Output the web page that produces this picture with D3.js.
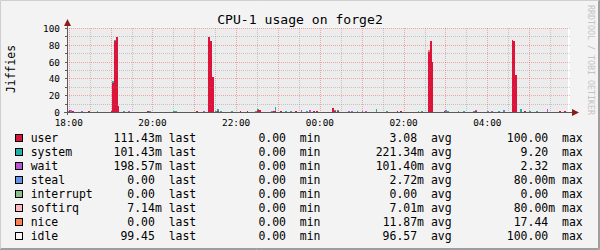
<!DOCTYPE html>
<html><head><meta charset="utf-8">
<script src="https://cdn.jsdelivr.net/npm/d3@7"></script>
<style>html,body{margin:0;padding:0;background:#f3f3f3}svg{display:block}</style>
</head><body><svg id="c" width="600" height="250"></svg>
<script>
// ---------- DATA ----------
const chartTitle = "CPU-1 usage on forge2";
const yLabel = "Jiffies";
const watermark = "RRDTOOL / TOBI OETIKER";
const yTicks = [0, 20, 40, 60, 80, 100];
const xTickLabels = ["18:00", "20:00", "22:00", "00:00", "02:00", "04:00"];
const timeStart = "17:57:30", timeEnd = "05:58:30";
const dataStart = "17:57:30", dataEnd = "05:55:00";
const stepMinutes = 2.5;

const sampleTimes = ["17:57:30","18:00","18:02:30","18:05","18:17:30","18:27:30","18:40","19:00","19:02:30","19:05",
 "19:07:30","19:10","19:17:30","19:25","19:52:30","19:55","20:30","20:32:30","21:02:30","21:12:30",
 "21:20","21:22:30","21:25","21:30","21:32:30","21:37:30","21:52:30","22:05","22:15","22:27:30",
 "22:30","22:32:30","22:50","22:52:30","22:55","23:02:30","23:10","23:17:30","23:25","23:32:30",
 "23:40","23:45","23:50","23:55","00:17:30","00:20","00:25","00:40","00:45","00:52:30",
 "01:00","01:05","01:20","01:35","01:50","01:55","02:20","02:25","02:35","02:37:30",
 "02:40","02:57:30","03:00","03:02:30","03:17:30","03:25","03:40","03:42:30","04:00","04:05",
 "04:15","04:22:30","04:35","04:37:30","04:40","04:47:30","04:52:30","05:00","05:10","05:25",
 "05:42:30","05:50"];
const userVals = [0,1,0,1.5,0,1.2,0,1.2,35,84, 88.7,7,0,0,1.5,0,0,0,1.2,0, 88.7,85,41.4,0,1.5,0,0,1.2,1.2,0,
 2,2.5,0,1,1,1.5,0,0,1.2,0, 0,0,1.5,1.5,4.5,1.2,1,0,0,0, 0,0,0,0,1.2,1.5,0,0,72,85,
 59,1.5,0,0,0,0,0,1.2,0,0, 0,0,86,85,44,0,1.2,0,0,0, 1.2,1.2];
const systemVals = [1.2,0,0,0,0,0,1.5,0,2,2, 0,0,1.5,0,0,1.2,1.5,1.5,0,0, 0,0,0,1.5,1.5,1.5,1.5,0,0,1.5,
 1,0,0,0,5,0,1.2,1.2,0,0.5, 1.2,0,0,0,0,0.5,1,0,0,1.5, 0,0,3,1.5,0,0,1.2,1.2,0,0,
 0,0,0.8,1.5,1.5,1.5,1.2,0,1.5,0, 1.5,1.2,0,0,0,3,0,1.2,1.2,0, 0,0];
const waitVals = [0,1,2.5,0,1.5,0,0,0,0,0, 0,0,0,1.5,0,0,0,0,0,1.2, 0,0,0,0,0,0,0,0,0,0,
 0,0,1.5,0,0,0,0,0,0,1.5, 0,2,0,0,0,0,0,1.5,1.2,0, 1.5,1.5,0,0,0,0,0,0,0,0,
 0,0,1.2,0,0,0,0,0.8,0,1.2, 0,1,0,0,0,0,0,0,0,3, 0,0];
const niceVals = [0,0,0,0,0,0,0,0,0,0, 0,0,0,0,0,0,0,0,0,0, 0,0,0,0,0,0,0,0,0,0,
 0,0,0,0,0,0,0,0,0,0, 0,0,0,0,0,0,0,0,0,0, 0,0,0,0,0,0,0,0,2,0,
 0,0,0,0,0,0,0,0,0,0, 0,0,0,0,0,0,0,0,0,0, 0,0];

const legendNames = ["user","system","wait","steal","interrupt","softirq","nice","idle"];
const legendColors = ["#dc143c","#20b2aa","#ba55d3","#6495ed","#8fbc8f","#ffb6c1","#ff7f50","#f5f5f5"];
const lastVals = ["111.43m","101.43m","198.57m","0.00","0.00","7.14m","0.00","99.45"];
const minVals  = ["0.00","0.00","0.00","0.00","0.00","0.00","0.00","0.00"];
const avgVals  = ["3.08","221.34m","101.40m","2.72m","0.00","7.01m","11.87m","96.57"];
const maxVals  = ["100.00","9.20","2.32","80.00m","0.00","80.00m","17.44","100.00"];
const statLabels = ["last","min","avg","max"];

// ---------- HELPERS ----------
function parseT(s) {
  const p = s.split(":").map(Number);
  const h = p[0], m = p[1], sec = p[2] || 0;
  const day = h >= 12 ? 1 : 2;
  return new Date(2000, 0, day, h, m, sec);
}
const mono = "'DejaVu Sans Mono', 'Liberation Mono', monospace";
const svg = d3.select("#c");

const X0 = 67, X1 = 570, Y0 = 112, Y1 = 28;
const x = d3.scaleTime().domain([parseT(timeStart), parseT(timeEnd)]).range([X0, X1]);
const y = d3.scaleLinear().domain([0, 100]).range([Y0, Y1]);
const stepMs = stepMinutes * 60000;

// background & frame
svg.append("rect").attr("width", 600).attr("height", 250).attr("fill", "#f3f3f3");
svg.append("path").attr("d", "M0.5,249 V0.5 H599").attr("stroke", "#cfcfcf").attr("fill", "none");
svg.append("path").attr("d", "M1,248.5 H598.5 V1").attr("stroke", "#9e9e9e").attr("stroke-width", 1).attr("fill", "none");
svg.append("path").attr("d", "M0,249.5 H599.5 V0").attr("stroke", "#9e9e9e").attr("stroke-width", 1).attr("fill", "none");

// canvas
svg.append("rect").attr("x", X0).attr("y", Y1).attr("width", X1 - X0).attr("height", Y0 - Y1).attr("fill", "#ffffff");
// idle (remainder up to 100 over the data range)
const dx0 = Math.round(x(parseT(dataStart))), dx1 = Math.round(x(parseT(dataEnd)));
svg.append("rect").attr("x", dx0).attr("y", y(100)).attr("width", dx1 - dx0).attr("height", y(0) - y(100))
  .attr("fill", "#ececec").attr("shape-rendering", "crispEdges");

// stacked bars
const keys = ["user", "system", "wait", "nice"];
const keyColor = {user: legendColors[0], system: legendColors[1], wait: legendColors[2], nice: legendColors[6]};
const rows = sampleTimes.map((t, i) => ({t: parseT(t), user: userVals[i], system: systemVals[i], wait: waitVals[i], nice: niceVals[i]}));
const layers = d3.stack().keys(keys)(rows);
const gBars = svg.append("g").attr("shape-rendering", "crispEdges");
layers.forEach(layer => {
  layer.forEach(d => {
    const v = d[1] - d[0];
    if (v <= 0) return;
    const xa = Math.round(x(d.data.t)), xb = Math.round(x(new Date(+d.data.t + stepMs)));
    let yb = Math.round(y(d[0])), ya = Math.round(y(d[1]));
    if (yb - ya < 1) ya = yb - 1;
    gBars.append("rect").attr("x", xa).attr("y", ya).attr("width", Math.max(1, xb - xa)).attr("height", yb - ya)
      .attr("fill", keyColor[layer.key]);
  });
});

// grid
const gGrid = svg.append("g").attr("shape-rendering", "crispEdges");
const minorT = d3.timeMinute.every(30).range(parseT(timeStart), parseT(timeEnd));
minorT.forEach(t => {
  const major = t.getMinutes() === 0;
  const px = Math.round(x(t)) + 0.5;
  if (px <= X0 + 1) return;
  gGrid.append("line").attr("x1", px).attr("x2", px).attr("y1", Y1).attr("y2", Y0)
    .attr("stroke", major ? "rgba(240,0,0,0.3)" : "rgba(120,120,120,0.35)").attr("stroke-dasharray", "1,1");
});
d3.range(10, 101, 10).forEach(v => {
  const major = v % 20 === 0;
  const py = Math.round(y(v)) + 0.5;
  gGrid.append("line").attr("x1", X0).attr("x2", X1).attr("y1", py).attr("y2", py)
    .attr("stroke", major ? "rgba(240,0,0,0.3)" : "rgba(120,120,120,0.35)").attr("stroke-dasharray", "1,1");
});

// axes
const axisCol = "#5a5a5a";
svg.append("line").attr("x1", X0 - 3).attr("x2", X1 + 4).attr("y1", Y0 + 0.5).attr("y2", Y0 + 0.5).attr("stroke", axisCol);
svg.append("line").attr("x1", X0 + 0.5).attr("x2", X0 + 0.5).attr("y1", Y0 + 3).attr("y2", 24).attr("stroke", axisCol);
svg.append("path").attr("d", `M${X0 - 3},26 L${X0 + 0.5},19 L${X0 + 4},26 Z`).attr("fill", "#8b1a1a");
svg.append("path").attr("d", `M${X1 + 2},${Y0 - 3} L${X1 + 9},${Y0 + 0.5} L${X1 + 2},${Y0 + 4} Z`).attr("fill", "#8b1a1a");
// small ticks
d3.range(0, 101, 10).forEach(v => {
  const py = Math.round(y(v)) + 0.5;
  svg.append("line").attr("x1", X0 - 2).attr("x2", X0).attr("y1", py).attr("y2", py).attr("stroke", axisCol);
});

// y tick labels
svg.append("g").selectAll("text").data(yTicks).join("text")
  .attr("x", 60).attr("y", d => Math.round(y(d)) + 3.5).attr("text-anchor", "end")
  .attr("font-family", mono).attr("font-size", 9.4).attr("fill", "#000").text(d => d);
// x tick labels
svg.append("g").selectAll("text").data(xTickLabels).join("text")
  .attr("x", d => x(parseT(d))).attr("y", 126).attr("text-anchor", "middle")
  .attr("font-family", mono).attr("font-size", 9.4).attr("fill", "#000").text(d => d);

// title
svg.append("text").attr("x", 300).attr("y", 24).attr("text-anchor", "middle")
  .attr("font-family", mono).attr("font-size", 13.1).attr("fill", "#000").text(chartTitle);
// y label
svg.append("text").attr("transform", "translate(15,69) rotate(-90)").attr("text-anchor", "middle")
  .attr("font-family", mono).attr("font-size", 11.4).attr("fill", "#000").text(yLabel);
// watermark
svg.append("text").attr("transform", "translate(588,60) rotate(90)").attr("text-anchor", "middle")
  .attr("font-family", mono).attr("font-size", 8.3).attr("fill", "#c4c4c4").text(watermark);

// legend
const colX = c => 30.7 + c * 6.9;
const gLeg = svg.append("g").attr("font-family", mono).attr("font-size", 11.46).attr("fill", "#000");
const statCols = [[lastVals, 19, 20], [minVals, 38, 39], [avgVals, 57, 58], [maxVals, 76, 77]];
legendNames.forEach((name, i) => {
  const by = 142 + i * 14;
  gLeg.append("rect").attr("x", 15.5).attr("y", by - 7.5).attr("width", 7).attr("height", 7)
    .attr("fill", legendColors[i]).attr("stroke", "#000").attr("shape-rendering", "crispEdges");
  gLeg.append("text").attr("x", colX(0)).attr("y", by).text(name);
  statCols.forEach(([arr, endCol, labCol], k) => {
    const s = arr[i];
    const hasSi = /[a-zA-Z]$/.test(s);
    gLeg.append("text").attr("x", colX(hasSi ? endCol : endCol - 1)).attr("y", by).attr("text-anchor", "end").text(s);
    gLeg.append("text").attr("x", colX(labCol)).attr("y", by).text(statLabels[k]);
  });
});
</script></body></html>
